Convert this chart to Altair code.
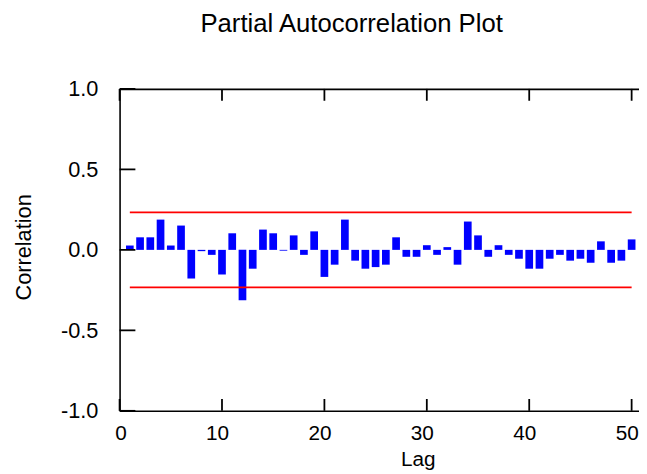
import altair as alt
import pandas as pd

lags = list(range(1, 51))
pacf = [0.027, 0.078, 0.078, 0.188, 0.027, 0.151, -0.178, -0.008, -0.031, -0.153,
        0.103, -0.313, -0.117, 0.126, 0.103, -0.005, 0.090, -0.031, 0.115, -0.168,
        -0.092, 0.188, -0.067, -0.117, -0.107, -0.092, 0.078, -0.043, -0.043, 0.029,
        -0.031, 0.017, -0.092, 0.176, 0.090, -0.043, 0.029, -0.031, -0.055, -0.117,
        -0.117, -0.055, -0.031, -0.067, -0.055, -0.080, 0.053, -0.080, -0.067, 0.065]

conf_limits = [0.233, -0.233]
conf_lag_start = [1, 1]
conf_lag_end = [50, 50]

x_ticks = [0, 10, 20, 30, 40, 50]
y_ticks = [-1.0, -0.5, 0.0, 0.5, 1.0]

FONT = "Liberation Sans"
W, H = 526, 326
x_domain = [0, 50.72]

df = pd.DataFrame({"lag": lags, "pacf": pacf})
conf = pd.DataFrame({"limit": conf_limits, "start": conf_lag_start, "end": conf_lag_end})
xt = pd.DataFrame({"t": x_ticks})
yt = pd.DataFrame({"t": y_ticks})

xscale = alt.Scale(domain=x_domain, nice=False, zero=False, padding=0)
yscale = alt.Scale(domain=[-1, 1], nice=False, padding=0)

yaxis = alt.Axis(values=y_ticks, title="Correlation",
                 labelExpr="datum.value < 0 ? '-' + format(-datum.value, '.1f') : format(datum.value, '.1f')",
                 ticks=False, labelPadding=22, labelFontSize=22,
                 titleFontSize=22, titleX=-90, titleY=160,
                 titleBaseline="alphabetic", titleAngle=-90,
                 titleAlign="center")

bars = alt.Chart(df).mark_bar(color="#0000FF", width=7.8).encode(
    x=alt.X("lag:Q", scale=xscale,
            axis=alt.Axis(values=x_ticks, format="d", title="Lag", ticks=False,
                          labelPadding=12, labelOffset=-5, labelFontSize=21,
                          titleFontSize=21, titleX=302, titleY=55,
                          titleBaseline="alphabetic", titleAnchor="start",
                          titleAlign="center")),
    y=alt.Y("pacf:Q", scale=yscale, axis=yaxis, title="Correlation"),
    y2=alt.datum(0),
)

limits = alt.Chart(conf).mark_rule(color="#FF0000", strokeWidth=1.8).encode(
    x=alt.X("start:Q", scale=xscale,
            axis=alt.Axis(orient="top", labels=False, ticks=False, title=None)),
    x2="end:Q",
    y=alt.Y("limit:Q", scale=yscale, axis=yaxis, title="Correlation"),
)

ytick_rules = alt.Chart(yt).mark_rule(color="black", strokeWidth=1.8).encode(
    y=alt.Y("t:Q", scale=yscale, axis=yaxis, title="Correlation"),
    x=alt.value(0),
    x2=alt.value(16),
)

xtick_bottom = alt.Chart(xt).mark_rule(color="black", strokeWidth=1.8).encode(
    x=alt.X("t:Q", scale=xscale, axis=None),
    y=alt.value(H),
    y2=alt.value(H - 12),
)

xtick_top = alt.Chart(xt).mark_rule(color="black", strokeWidth=1.8).encode(
    x=alt.X("t:Q", scale=xscale, axis=None),
    y=alt.value(0),
    y2=alt.value(12),
)

chart = alt.layer(bars, limits, ytick_rules, xtick_bottom, xtick_top).resolve_axis(
    x="independent"
).properties(
    width=W,
    height=H,
    padding={"left": 113, "top": 79, "right": 0, "bottom": 58},
    autosize=alt.AutoSizeParams(type="none"),
    title=alt.TitleParams("Partial Autocorrelation Plot", fontSize=26, font=FONT,
                          fontWeight="normal", color="black", anchor="middle",
                          dx=-28, dy=-38),
).configure_view(stroke=None).configure_axis(
    grid=False, domainColor="black", domainWidth=1.6, labelColor="black",
    titleColor="black", labelFont=FONT, titleFont=FONT, titleFontWeight="normal",
)

chart.save("out.html", embed_options={"renderer": "svg", "actions": False})
